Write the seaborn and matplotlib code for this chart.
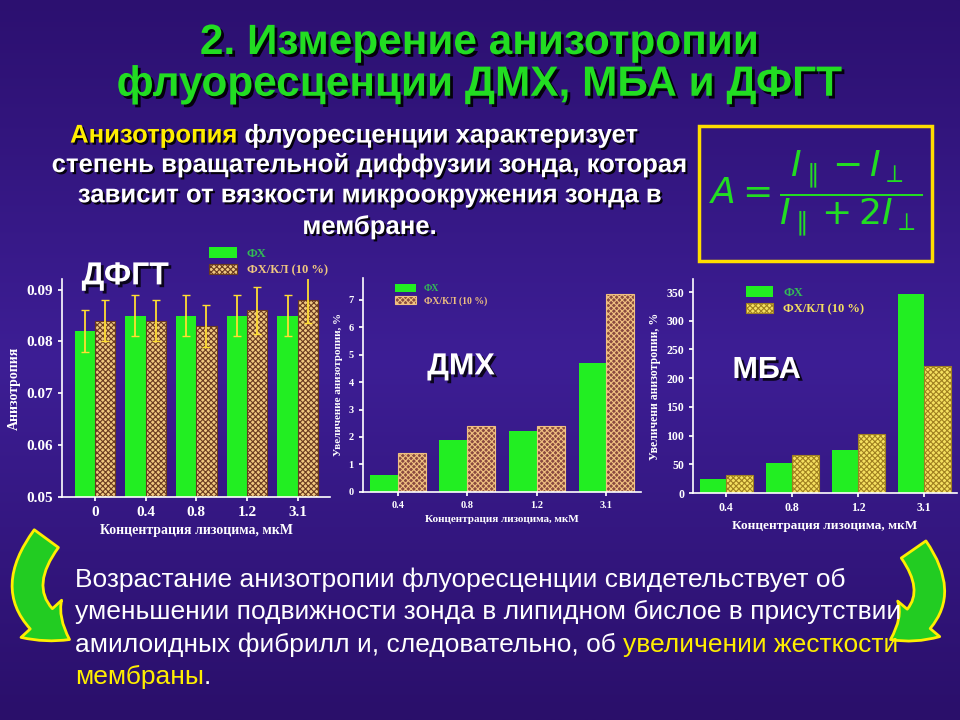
import matplotlib
matplotlib.use("Agg")
import matplotlib.pyplot as plt
import seaborn as sns
import pandas as pd
import numpy as np
from matplotlib.patches import FancyArrowPatch, Rectangle
import matplotlib.patheffects as pe

sns.set_theme(style="ticks")
plt.rcParams['font.family'] = ['Liberation Sans', 'DejaVu Sans']
plt.rcParams['hatch.linewidth'] = 0.8

conc_dfgt = ["0", "0.4", "0.8", "1.2", "3.1"]
dfgt_fx = [0.082, 0.085, 0.085, 0.085, 0.085]
dfgt_fxkl = [0.084, 0.084, 0.083, 0.086, 0.088]
dfgt_err_fx = [0.004, 0.004, 0.004, 0.004, 0.004]
dfgt_err_fxkl = [0.004, 0.004, 0.004, 0.0045, 0.0045]

conc = ["0.4", "0.8", "1.2", "3.1"]
dmx_fx = [0.6, 1.9, 2.2, 4.7]
dmx_fxkl = [1.4, 2.4, 2.4, 7.2]
mba_fx = [25, 52, 76, 346]
mba_fxkl = [31, 67, 103, 222]

series = ["ФХ", "ФХ/КЛ (10 %)"]

BG = "#34178a"
fig = plt.figure(figsize=(9.6, 7.2), dpi=100)
fig.patch.set_facecolor(BG)
grad = np.linspace(0, 1, 256).reshape(-1, 1)
bgax = fig.add_axes([0, 0, 1, 1], zorder=-10)
bgax.imshow(grad, aspect='auto', cmap=matplotlib.colors.LinearSegmentedColormap.from_list(
    "g", ["#2c1070", "#3d1e95", "#2a0f6a"]), extent=[0, 1, 0, 1])
bgax.axis('off')

GREEN = "#22ee22"
serif = "Liberation Serif"

def make_axes(rect, cats, a, b, fcol2, hcol2, ylim, yticks, ylabel, yfmt, err=None):
    ax = fig.add_axes(rect)
    df = pd.DataFrame({"c": cats * 2, "v": list(a) + list(b),
                       "s": [series[0]] * len(cats) + [series[1]] * len(cats)})
    sns.barplot(data=df, x="c", y="v", hue="s", palette=[GREEN, fcol2],
                ax=ax, width=0.8, errorbar=None, legend=False, saturation=1)
    n = len(cats)
    for i, p in enumerate(ax.patches[:2 * n]):
        p.set_linewidth(0)
        if i >= n:
            p.set_hatch("xxxxxx")
            p.set_edgecolor(hcol2)
            p.set_linewidth(0.8)
    if err is not None:
        vals = list(a) + list(b)
        for i, p in enumerate(ax.patches[:2 * n]):
            x = p.get_x() + p.get_width() / 2
            ax.errorbar(x, vals[i], yerr=err[i], color="#ffdd33", capsize=3, lw=1.3)
    ax.set_facecolor("none")
    ax.set_ylim(*ylim)
    ax.set_yticks(yticks)
    ax.set_yticklabels([yfmt(t) for t in yticks])
    for s in ["top", "right"]:
        ax.spines[s].set_visible(False)
    for s in ["left", "bottom"]:
        ax.spines[s].set_color("white")
        ax.spines[s].set_linewidth(1.2)
    ax.tick_params(colors="white", length=3)
    ax.set_xlabel("Концентрация лизоцима, мкМ", color="white", family=serif, fontweight="bold")
    ax.set_ylabel(ylabel, color="white", family=serif, fontweight="bold")
    return ax

ax1 = make_axes([0.065, 0.31, 0.279, 0.302], conc_dfgt, dfgt_fx, dfgt_fxkl,
                "#f0c880", "#6a3a20", (0.05, 0.092), [0.05, 0.06, 0.07, 0.08, 0.09],
                "Анизотропия", lambda t: f"{t:.2f}", err=dfgt_err_fx + dfgt_err_fxkl)
for l in ax1.get_xticklabels() + ax1.get_yticklabels():
    l.set_family(serif); l.set_fontweight("bold"); l.set_fontsize(11)
ax1.xaxis.label.set_fontsize(10); ax1.yaxis.label.set_fontsize(10)

ax2 = make_axes([0.378, 0.317, 0.29, 0.297], conc, dmx_fx, dmx_fxkl,
                "#8a4a40", "#f0c080", (0, 7.8), list(range(8)),
                "Увеличение анизотропии, %", lambda t: f"{t}")
for l in ax2.get_xticklabels() + ax2.get_yticklabels():
    l.set_family(serif); l.set_fontweight("bold"); l.set_fontsize(7.5)
ax2.xaxis.label.set_fontsize(8); ax2.yaxis.label.set_fontsize(8)

ax3 = make_axes([0.722, 0.315, 0.275, 0.297], conc, mba_fx, mba_fxkl,
                "#f5e060", "#a08020", (0, 372), [0, 50, 100, 150, 200, 250, 300, 350],
                "Увеличени анизотропии, %", lambda t: f"{t}")
for l in ax3.get_xticklabels() + ax3.get_yticklabels():
    l.set_family(serif); l.set_fontweight("bold"); l.set_fontsize(8.5)
ax3.xaxis.label.set_fontsize(9.5); ax3.yaxis.label.set_fontsize(8.5)

def legend(ax, fs, loc, c2):
    h = [ax.patches[0], ax.patches[-1]]
    lg = ax.legend(h, series, loc="upper left", bbox_to_anchor=loc, frameon=False,
                   prop={"family": serif, "weight": "bold", "size": fs},
                   handlelength=2.2, handleheight=0.9, borderaxespad=0, labelspacing=0.3)
    lg.get_texts()[0].set_color("#33bb55")
    lg.get_texts()[1].set_color(c2)

legend(ax1, 9, (0.53, 1.17), "#f0c880")
legend(ax2, 7, (0.1, 0.99), "#f0c080")
legend(ax3, 9, (0.18, 0.99), "#f5e060")

lab = dict(color="white", fontweight="bold",
           path_effects=[pe.withSimplePatchShadow(offset=(2, -2), shadow_rgbFace="black", alpha=0.8)])
fig.text(0.085, 0.605, "ДФГТ", fontsize=23, **lab)
fig.text(0.445, 0.48, "ДМХ", fontsize=22, **lab)
fig.text(0.763, 0.475, "МБА", fontsize=22, **lab)

title = dict(color="#22dd22", fontweight="bold", fontsize=30.5, ha="center",
             path_effects=[pe.withSimplePatchShadow(offset=(2, -2), shadow_rgbFace="black", alpha=0.9)])
fig.text(0.5, 0.925, "2. Измерение анизотропии", **title)
fig.text(0.5, 0.867, "флуоресценции ДМХ, МБА и ДФГТ", **title)

renderer = fig.canvas.get_renderer()

def chain(x, y, parts, fs, bold=False, sh=None):
    for txt, col in parts:
        kw = dict(color=col, fontsize=fs)
        if bold:
            kw["fontweight"] = "bold"
        if sh:
            kw["path_effects"] = sh
        t = fig.text(x, y, txt, **kw)
        bb = t.get_window_extent(renderer)
        x = bb.x1 / fig.bbox.width

sh = [pe.withSimplePatchShadow(offset=(1.5, -1.5), shadow_rgbFace="black", alpha=0.9)]
chain(0.073, 0.802, [("Анизотропия ", "#ffee00"), ("флуоресценции характеризует", "white")], 18.5, True, sh)
para = dict(color="white", fontweight="bold", fontsize=18.5, ha="center", path_effects=sh)
fig.text(0.385, 0.761, "степень вращательной диффузии зонда, которая", **para)
fig.text(0.385, 0.719, "зависит от вязкости микроокружения зонда в", **para)
fig.text(0.385, 0.675, "мембране.", **para)

fig.patches.append(Rectangle((0.728, 0.637), 0.243, 0.188, transform=fig.transFigure,
                             facecolor="none", edgecolor="#ffdd00", lw=2.5))
fig.text(0.85, 0.731, r"$A=\dfrac{I_{\parallel}-I_{\perp}}{I_{\parallel}+2I_{\perp}}$",
         color="#22dd22", fontsize=26, ha="center", va="center", family="DejaVu Serif")

fs = 19
chain(0.078, 0.185, [("Возрастание анизотропии флуоресценции свидетельствует об", "white")], fs)
chain(0.078, 0.14, [("уменьшении подвижности зонда в липидном бислое в присутствии", "white")], fs)
chain(0.078, 0.095, [("амилоидных фибрилл и, следовательно, об ", "white"), ("увеличении жесткости", "#ffee00")], fs)
chain(0.078, 0.05, [("мембраны", "#ffee00"), (".", "white")], fs)

for (p0, p1, rad) in [((0.05, 0.255), (0.075, 0.11), 0.6), ((0.95, 0.24), (0.925, 0.11), -0.6)]:
    a = FancyArrowPatch(p0, p1, transform=fig.transFigure, connectionstyle=f"arc3,rad={rad}",
                        arrowstyle="simple,head_width=2.2,head_length=1.4,tail_width=1.2",
                        mutation_scale=18, facecolor="#22cc22", edgecolor="#ffee00", lw=2)
    fig.patches.append(a)

fig.savefig("out.png", dpi=100, facecolor=fig.get_facecolor())
